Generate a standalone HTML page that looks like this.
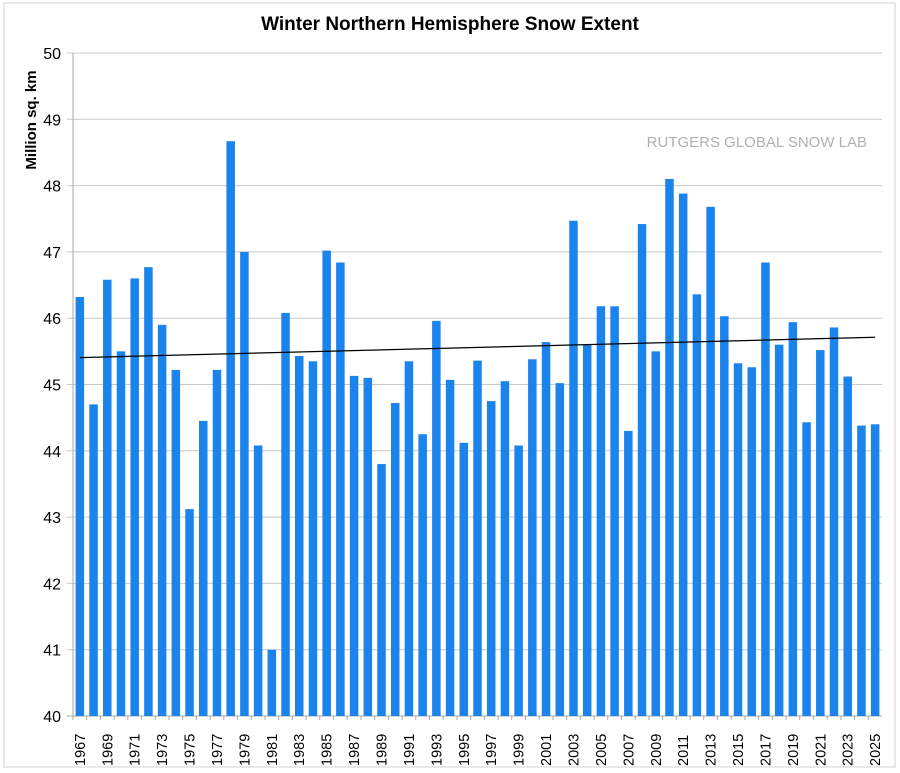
<!DOCTYPE html>
<html><head><meta charset="utf-8"><style>
body{margin:0;background:#fff;}
svg{display:block;font-family:"Liberation Sans",Arial,sans-serif;}
</style></head><body>
<svg width="900" height="773">
<rect x="4" y="3" width="891" height="764" fill="#fff" stroke="#d0d0d0"/>
<text x="450" y="30" text-anchor="middle" font-size="19" font-weight="bold">Winter Northern Hemisphere Snow Extent</text>
<text transform="translate(36,120) rotate(-90)" text-anchor="middle" font-size="15" font-weight="bold">Million sq. km</text>
<text x="867" y="147" text-anchor="end" font-size="15" fill="#b0b0b0">RUTGERS GLOBAL SNOW LAB</text>
<g id="grid"></g><g id="bars"></g><g id="axes"></g>
</svg>
<script>
const years=[];for(let y=1967;y<=2025;y++)years.push(y);
const values=[46.32,44.7,46.58,45.5,46.6,46.77,45.9,45.22,43.12,44.45,45.22,48.67,47.0,44.08,41.0,46.08,45.43,45.35,47.02,46.84,45.13,45.1,43.8,44.72,45.35,44.25,45.96,45.07,44.12,45.36,44.75,45.05,44.08,45.38,45.64,45.02,47.47,45.6,46.18,46.18,44.3,47.42,45.5,48.1,47.88,46.36,47.68,46.03,45.32,45.26,46.84,45.6,45.94,44.43,45.52,45.86,45.12,44.38,44.4];
const yTicks=[40,41,42,43,44,45,46,47,48,49,50];
const NS="http://www.w3.org/2000/svg";
const L=73,R=882,T=53,B=716,yMin=40,yMax=50;
const slot=(R-L)/years.length;
const xs=i=>L+slot*(i+0.5);
const ys=v=>B-(v-yMin)/(yMax-yMin)*(B-T);
function mk(tag,attrs,parent){const e=document.createElementNS(NS,tag);for(const k in attrs)e.setAttribute(k,attrs[k]);parent.appendChild(e);return e;}
const grid=document.getElementById('grid'),bars=document.getElementById('bars'),axes=document.getElementById('axes');
yTicks.forEach(t=>{
  const l=mk('line',{x1:L-6,x2:R,y1:ys(t),y2:ys(t),stroke:t===40?'#aaa':'#c8c8c8','stroke-width':1},grid);
  
  
  const tx=mk('text',{x:L-12,y:ys(t)+6,'text-anchor':'end','font-size':16},axes);
  tx.textContent=t;
  
  
});
const yl=mk('line',{x1:L,x2:L,y1:T,y2:B,stroke:'#aaa'},axes);


const bw=8.5;
years.forEach((yr,i)=>{
  const v=values[i];
  const r=mk('rect',{x:xs(i)-bw/2,y:ys(v),width:bw,height:B-ys(v),fill:'#1a83ec'},bars);
  
  
  const tk=mk('line',{x1:L+slot*i,x2:L+slot*i,y1:B,y2:B+4,stroke:'#aaa'},axes);
  
  
  if(i%2===0){
    const tx=mk('text',{transform:`translate(${xs(i)+5},${B+50}) rotate(-90)`,'font-size':14.5},axes);
    tx.textContent=yr;
    
    
  }
});
const n=values.length;let sx=0,sy=0,sxy=0,sxx=0;
for(let i=0;i<n;i++){sx+=i;sy+=values[i];sxy+=i*values[i];sxx+=i*i;}
const m=(n*sxy-sx*sy)/(n*sxx-sx*sx),c=(sy-m*sx)/n;
const tl=mk('line',{x1:xs(0),y1:ys(c),x2:xs(n-1),y2:ys(c+m*(n-1)),stroke:'#000','stroke-width':1.2},axes);


</script>
</body></html>
